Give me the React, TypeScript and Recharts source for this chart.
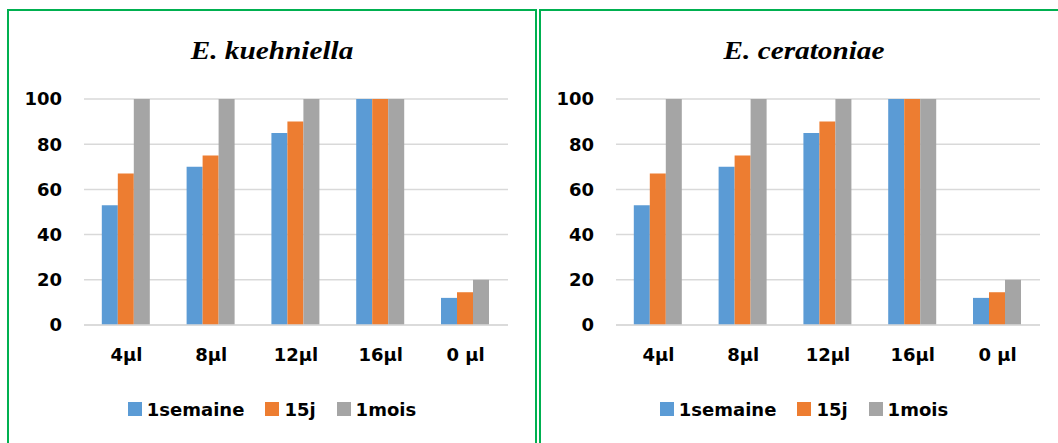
import React from 'react'
import { BarChart, Bar, XAxis, YAxis, CartesianGrid } from 'recharts'

const doses = ['4µl', '8µl', '12µl', '16µl', '0 µl']
const yTicks = [0, 20, 40, 60, 80, 100]

// E. kuehniella
const kuehSemaine = [53, 70, 85, 100, 12]
const kueh15j = [67, 75, 90, 100, 14.5]
const kuehMois = [100, 100, 100, 100, 20]

// E. ceratoniae
const ceraSemaine = [53, 70, 85, 100, 12]
const cera15j = [67, 75, 90, 100, 14.5]
const ceraMois = [100, 100, 100, 100, 20]

const series = [
  { key: 'semaine', name: '1semaine', color: '#5B9BD5' },
  { key: 'quinze', name: '15j', color: '#ED7D31' },
  { key: 'mois', name: '1mois', color: '#A5A5A5' },
]

const tickFont = '"DejaVu Sans", sans-serif'

function buildRows(semaine: number[], quinze: number[], mois: number[]) {
  return doses.map((dose, i) => ({ dose, semaine: semaine[i], quinze: quinze[i], mois: mois[i] }))
}

function Panel({ left, title, rows }: { left: number; title: string; rows: any[] }) {
  return (
    <div
      style={{
        position: 'absolute',
        left,
        top: 9,
        width: 530,
        height: 460,
        boxSizing: 'border-box',
        border: '2px solid #00B050',
        background: '#fff',
      }}
    >
      <div
        style={{
          position: 'absolute',
          top: 25,
          left: 0,
          width: '100%',
          textAlign: 'center',
          fontFamily: '"Liberation Serif", "Times New Roman", serif',
          fontWeight: 'bold',
          fontStyle: 'italic',
          fontSize: 25,
          lineHeight: '30px',
          transform: 'scaleX(1.17)',
        }}
      >
        {title}
      </div>
      <BarChart
        width={526}
        height={432}
        data={rows}
        margin={{ top: 88, right: 27, left: 0, bottom: 88 }}
        barCategoryGap="21%"
        barGap={0}
      >
        <CartesianGrid vertical={false} stroke="#D9D9D9" strokeWidth={1.5} />
        <XAxis
          dataKey="dose"
          height={30}
          tickLine={false}
          axisLine={{ stroke: '#D9D9D9', strokeWidth: 1.5 }}
          tickMargin={17}
          tick={{ fill: '#000', fontSize: 18, fontWeight: 'bold', fontFamily: tickFont }}
        />
        <YAxis
          width={75}
          domain={[0, 100]}
          ticks={yTicks}
          axisLine={false}
          tickLine={false}
          tickMargin={16}
          tick={{ fill: '#000', fontSize: 18, fontWeight: 'bold', fontFamily: tickFont }}
        />
        {series.map((s) => (
          <Bar key={s.key} dataKey={s.key} name={s.name} fill={s.color} isAnimationActive={false} />
        ))}
      </BarChart>
      <div
        style={{
          position: 'absolute',
          top: 388,
          left: 0,
          width: 526,
          height: 20,
          display: 'flex',
          justifyContent: 'center',
          alignItems: 'center',
          fontFamily: tickFont,
          fontWeight: 'bold',
          fontSize: 18,
        }}
      >
        {series.map((s, i) => (
          <div key={s.key} style={{ display: 'flex', alignItems: 'center', marginLeft: i === 0 ? 0 : 21 }}>
            <span style={{ width: 14, height: 14, background: s.color, marginRight: 5, display: 'inline-block' }} />
            <span>{s.name}</span>
          </div>
        ))}
      </div>
    </div>
  )
}

export default function App() {
  return (
    <div
      style={{
        position: 'absolute',
        left: 0,
        top: 0,
        width: 1058,
        height: 443,
        overflow: 'hidden',
        background: '#fff',
      }}
    >
      <Panel left={7} title="E. kuehniella" rows={buildRows(kuehSemaine, kueh15j, kuehMois)} />
      <Panel left={539} title="E. ceratoniae" rows={buildRows(ceraSemaine, cera15j, ceraMois)} />
    </div>
  )
}
